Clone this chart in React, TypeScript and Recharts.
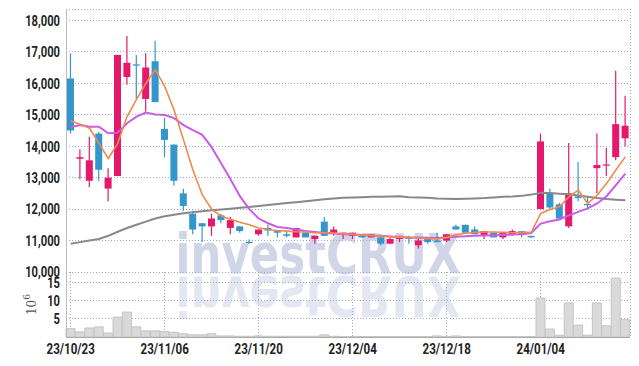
import React from 'react';
import { ComposedChart, Bar, Line, XAxis, YAxis, CartesianGrid } from 'recharts';

const dates = [
  '23/10/23', '23/10/24', '23/10/25', '23/10/26', '23/10/27',
  '23/10/30', '23/10/31', '23/11/01', '23/11/02', '23/11/03',
  '23/11/06', '23/11/07', '23/11/08', '23/11/09', '23/11/10',
  '23/11/13', '23/11/14', '23/11/15', '23/11/16', '23/11/17',
  '23/11/20', '23/11/21', '23/11/22', '23/11/23', '23/11/24',
  '23/11/27', '23/11/28', '23/11/29', '23/11/30', '23/12/01',
  '23/12/04', '23/12/05', '23/12/06', '23/12/07', '23/12/08',
  '23/12/11', '23/12/12', '23/12/13', '23/12/14', '23/12/15',
  '23/12/18', '23/12/19', '23/12/20', '23/12/21', '23/12/22',
  '23/12/26', '23/12/27', '23/12/28', '24/01/02', '24/01/03',
  '24/01/04', '24/01/05', '24/01/08', '24/01/09', '24/01/10',
  '24/01/11', '24/01/12', '24/01/15', '24/01/16', '24/01/17',
];

const opens = [
  16150, 13600, 12900, 14400, 12650, 13050, 16200, 16600, 15500, 16700,
  14550, 14050, 12500, 11850, 11550, 11450, 11800, 11400, 11450, 10960,
  11200, 11400, 11300, 11200, 11100, 11250, 11050, 11600, 11250, 11200,
  11150, 11150, 11100, 11100, 10900, 11050, 11100, 10850, 11050, 11000,
  11000, 11450, 11500, 11350, 11150, 11250, 11100, 11200, 11300, 11150,
  12000, 12500, 12150, 11450, 12400, 12160, 13300, 13400, 13650, 14250,
];
const highs = [
  16950, 13900, 14300, 14450, 13300, 16900, 17500, 16900, 16950, 17350,
  14900, 14050, 12650, 11950, 11550, 11850, 11850, 11750, 11450, 11030,
  11350, 11500, 11300, 11300, 11400, 11250, 11150, 11750, 11450, 11250,
  11250, 11200, 11200, 11100, 11100, 11150, 11150, 11050, 11050, 11250,
  11200, 11500, 11500, 11450, 11300, 11250, 11250, 11350, 11300, 11150,
  14400, 12650, 12200, 14100, 13500, 12400, 14400, 13950, 16400, 15600,
];
const lows = [
  14400, 12950, 12700, 12900, 12250, 13050, 15950, 15500, 15100, 15400,
  13650, 12750, 11950, 11200, 10950, 11150, 11550, 11200, 11250, 10900,
  11150, 11150, 11100, 11100, 11100, 11100, 10900, 11150, 11150, 11050,
  11050, 11100, 11100, 10850, 10900, 10950, 10900, 10750, 10900, 10950,
  10950, 11350, 11250, 11200, 11050, 11100, 11050, 11150, 11100, 11100,
  12000, 12000, 11700, 11400, 12250, 12000, 12500, 13050, 13550, 14000,
];
const closes = [
  14500, 13650, 13550, 13250, 13000, 16900, 16650, 16560, 16500, 15400,
  14200, 12900, 12100, 11350, 11450, 11700, 11650, 11650, 11300, 10940,
  11350, 11320, 11250, 11150, 11400, 11100, 11150, 11150, 11350, 11250,
  11250, 11100, 11200, 10900, 11050, 11150, 11050, 11000, 10950, 10950,
  11200, 11350, 11250, 11200, 11300, 11100, 11250, 11300, 11200, 11100,
  14150, 12050, 11700, 12500, 12350, 12150, 13400, 13420, 14700, 14650,
];

const ma5 = [
  14800, 14700, 14570, 14090, 13610, 14090, 14940, 15490, 16000, 16430,
  15900, 15150, 14200, 13240, 12450, 12000, 11780, 11680, 11580, 11500,
  11400, 11350, 11320, 11300, 11280, 11270, 11250, 11250, 11230, 11220,
  11200, 11180, 11160, 11140, 11120, 11110, 11100, 11080, 11060, 11050,
  11100, 11180, 11230, 11260, 11270, 11270, 11260, 11250, 11260, 11260,
  11860, 11990, 12070, 12390, 12600, 12180, 12440, 12810, 13240, 13660,
];
const ma10 = [
  14600, 14670, 14620, 14620, 14410, 14430, 14730, 14940, 15070, 15010,
  14990, 14890, 14670, 14510, 14360, 13960, 13460, 12950, 12410, 12000,
  11700, 11550, 11430, 11400, 11350, 11300, 11270, 11240, 11220, 11200,
  11190, 11180, 11160, 11150, 11130, 11110, 11100, 11100, 11090, 11080,
  11100, 11120, 11140, 11150, 11160, 11170, 11180, 11190, 11200, 11240,
  11540, 11610, 11670, 11800, 11910, 12020, 12180, 12410, 12760, 13130,
];
const ma60 = [
  10900, 10950, 11000, 11050, 11150, 11280, 11400, 11500, 11600, 11700,
  11770, 11820, 11870, 11900, 11930, 11960, 11985, 12010, 12040, 12065,
  12100, 12130, 12160, 12190, 12220, 12250, 12280, 12310, 12340, 12360,
  12370, 12380, 12390, 12395, 12400, 12410, 12380, 12370, 12360, 12340,
  12330, 12320, 12330, 12340, 12350, 12370, 12390, 12400, 12420, 12460,
  12520, 12510, 12490, 12470, 12430, 12390, 12350, 12320, 12300, 12280,
];

// volume in millions of shares
const volumes = [
  2.3, 1.4, 2.5, 2.8, 1.1, 5.5, 6.9, 2.8, 1.7, 1.7,
  1.5, 1.3, 0.9, 0.6, 0.6, 0.9, 0.3, 0.3, 0.2, 0.2,
  0.3, 0.2, 0.2, 0.2, 0.2, 0.2, 0.2, 0.6, 0.2, 0.15,
  0.15, 0.15, 0.15, 0.15, 0.15, 0.15, 0.15, 0.15, 0.15, 0.3,
  0.15, 0.3, 0.15, 0.15, 0.15, 0.15, 0.15, 0.15, 0.15, 0.15,
  10.8, 2.2, 0.5, 9.4, 3.3, 0.5, 9.4, 3.1, 16.3, 4.8,
];

const tickDates = ['23/10/23', '23/11/06', '23/11/20', '23/12/04', '23/12/18', '24/01/04'];
const priceTicks = [10000, 11000, 12000, 13000, 14000, 15000, 16000, 17000, 18000];
const volumeTicks = [5, 10, 15];

const rows = dates.map((date, i) => ({
  date,
  open: opens[i],
  high: highs[i],
  low: lows[i],
  close: closes[i],
  range: [lows[i], highs[i]],
  ma5: ma5[i],
  ma10: ma10[i],
  ma60: ma60[i],
  vol: volumes[i],
}));

const UP = '#e4196b';
const DOWN = '#3397cb';
const GRID = '#a4aac4';
const FRAME = '#bdbdbd';

// hairlines snap to whole pixels so the dotted grid stays visible
const css = `
.recharts-cartesian-grid line,
.recharts-cartesian-axis-line { shape-rendering: crispEdges; }
`;

// the axis font is a narrow one, squeeze Roboto to the same width
function NarrowTick(props: any) {
  const { x, y, payload, textAnchor, dy, fmt } = props;
  const label = fmt ? fmt(payload.value) : String(payload.value);
  const len = label.split('').reduce((s: number, ch: string) => s + (/\d/.test(ch) ? 6.4 : ch === '/' ? 5 : 2.8), 0);
  return (
    <text
      x={x}
      y={y}
      dy={dy}
      textAnchor={textAnchor}
      fontFamily="Roboto, sans-serif"
      fontWeight="bold"
      fontSize={15}
      fill="#222"
      textLength={len}
      lengthAdjust="spacingAndGlyphs"
    >
      {label}
    </text>
  );
}

function Candle(props: any) {
  const { x, y, width, height, payload } = props;
  const { open, close, high, low } = payload;
  const color = close >= open ? UP : DOWN;
  const top = Math.min(y, y + height);
  const h = Math.abs(height);
  const ratio = high === low ? 0 : h / (high - low);
  const yOf = (v: number) => top + (high - v) * ratio;
  const cx = x + width / 2;
  const bTop = yOf(Math.max(open, close));
  const bBot = yOf(Math.min(open, close));
  return (
    <g>
      <line x1={cx} x2={cx} y1={top} y2={top + h} stroke={color} strokeWidth={1.2} />
      <rect x={x} y={bTop} width={width} height={Math.max(bBot - bTop, 1.2)} fill={color} />
    </g>
  );
}

function VolumeUnit(props: any) {
  const { viewBox } = props;
  const cx = viewBox.x + 32;
  const cy = viewBox.y + viewBox.height / 2;
  return (
    <text
      x={cx}
      y={cy}
      transform={`rotate(-90 ${cx} ${cy})`}
      textAnchor="middle"
      dominantBaseline="central"
      fontFamily="DejaVu Serif, serif"
      fontSize={12}
      fill="#555"
    >
      10<tspan dy={-5} fontSize={9}>6</tspan>
    </text>
  );
}

const fmtPrice = (v: number) => v.toLocaleString('en-US');

export default function App() {
  return (
    <div style={{ position: 'absolute', left: 0, top: 0, width: 639, height: 366, background: '#fff' }}>
      <style>{css}</style>
      <svg width={639} height={366} style={{ position: 'absolute', left: 0, top: 0 }}>
        <text
          x={318}
          y={273}
          textAnchor="middle"
          fontFamily="DejaVu Sans, sans-serif"
          fontWeight="bold"
          fontSize={56}
          textLength={285}
          lengthAdjust="spacingAndGlyphs"
          fill="#d0d6e7"
        >
          investCRUX
        </text>
        <text
          x={318}
          y={273}
          transform="translate(0 550) scale(1 -1)"
          textAnchor="middle"
          fontFamily="DejaVu Sans, sans-serif"
          fontWeight="bold"
          fontSize={56}
          textLength={285}
          lengthAdjust="spacingAndGlyphs"
          fill="#e4e7f1"
        >
          investCRUX
        </text>
      </svg>

      <div style={{ position: 'absolute', left: 0, top: 272 }}>
        <ComposedChart width={639} height={94} data={rows} barCategoryGap={0} margin={{ top: 0, right: 9, bottom: 0, left: 0 }}>
          <CartesianGrid stroke={GRID} strokeDasharray="1 2" />
          <XAxis
            dataKey="date"
            ticks={tickDates}
            interval={0}
            height={29}
            tickSize={0}
            tickMargin={6}
            tickLine={false}
            axisLine={{ stroke: '#aaa' }}
            tick={<NarrowTick dy="0.71em" />}
          />
          <YAxis
            domain={[0, 18]}
            ticks={volumeTicks}
            interval={0}
            width={66}
            tickSize={0}
            tickMargin={6}
            tickLine={false}
            axisLine={{ stroke: FRAME }}
            tick={<NarrowTick dy="0.36em" />}
            label={<VolumeUnit />}
          />
          <Bar dataKey="vol" fill="#d9d9d9" stroke="#c4c4c4" strokeWidth={1} isAnimationActive={false} />
        </ComposedChart>
      </div>

      <div style={{ position: 'absolute', left: 0, top: 0 }}>
        <ComposedChart width={639} height={285} data={rows} margin={{ top: 9, right: 9, bottom: 13, left: 0 }}>
          <CartesianGrid stroke={GRID} strokeDasharray="1 2" />
          <XAxis dataKey="date" ticks={tickDates} interval={0} tick={false} tickLine={false} axisLine={{ stroke: FRAME }} height={0} />
          <YAxis
            domain={[10000, 18360]}
            ticks={priceTicks}
            interval={0}
            width={66}
            tickSize={0}
            tickMargin={6}
            tickLine={false}
            axisLine={{ stroke: FRAME }}
            tick={<NarrowTick dy="0.36em" fmt={fmtPrice} />}
          />
          <Bar dataKey="range" barSize={7} shape={<Candle />} isAnimationActive={false} />
          <Line dataKey="ma60" stroke="#888" strokeWidth={2} dot={false} isAnimationActive={false} />
          <Line dataKey="ma10" stroke="#c95de8" strokeWidth={2} dot={false} isAnimationActive={false} />
          <Line dataKey="ma5" stroke="#ef8a4c" strokeWidth={1.6} dot={false} isAnimationActive={false} />
        </ComposedChart>
      </div>
    </div>
  );
}
